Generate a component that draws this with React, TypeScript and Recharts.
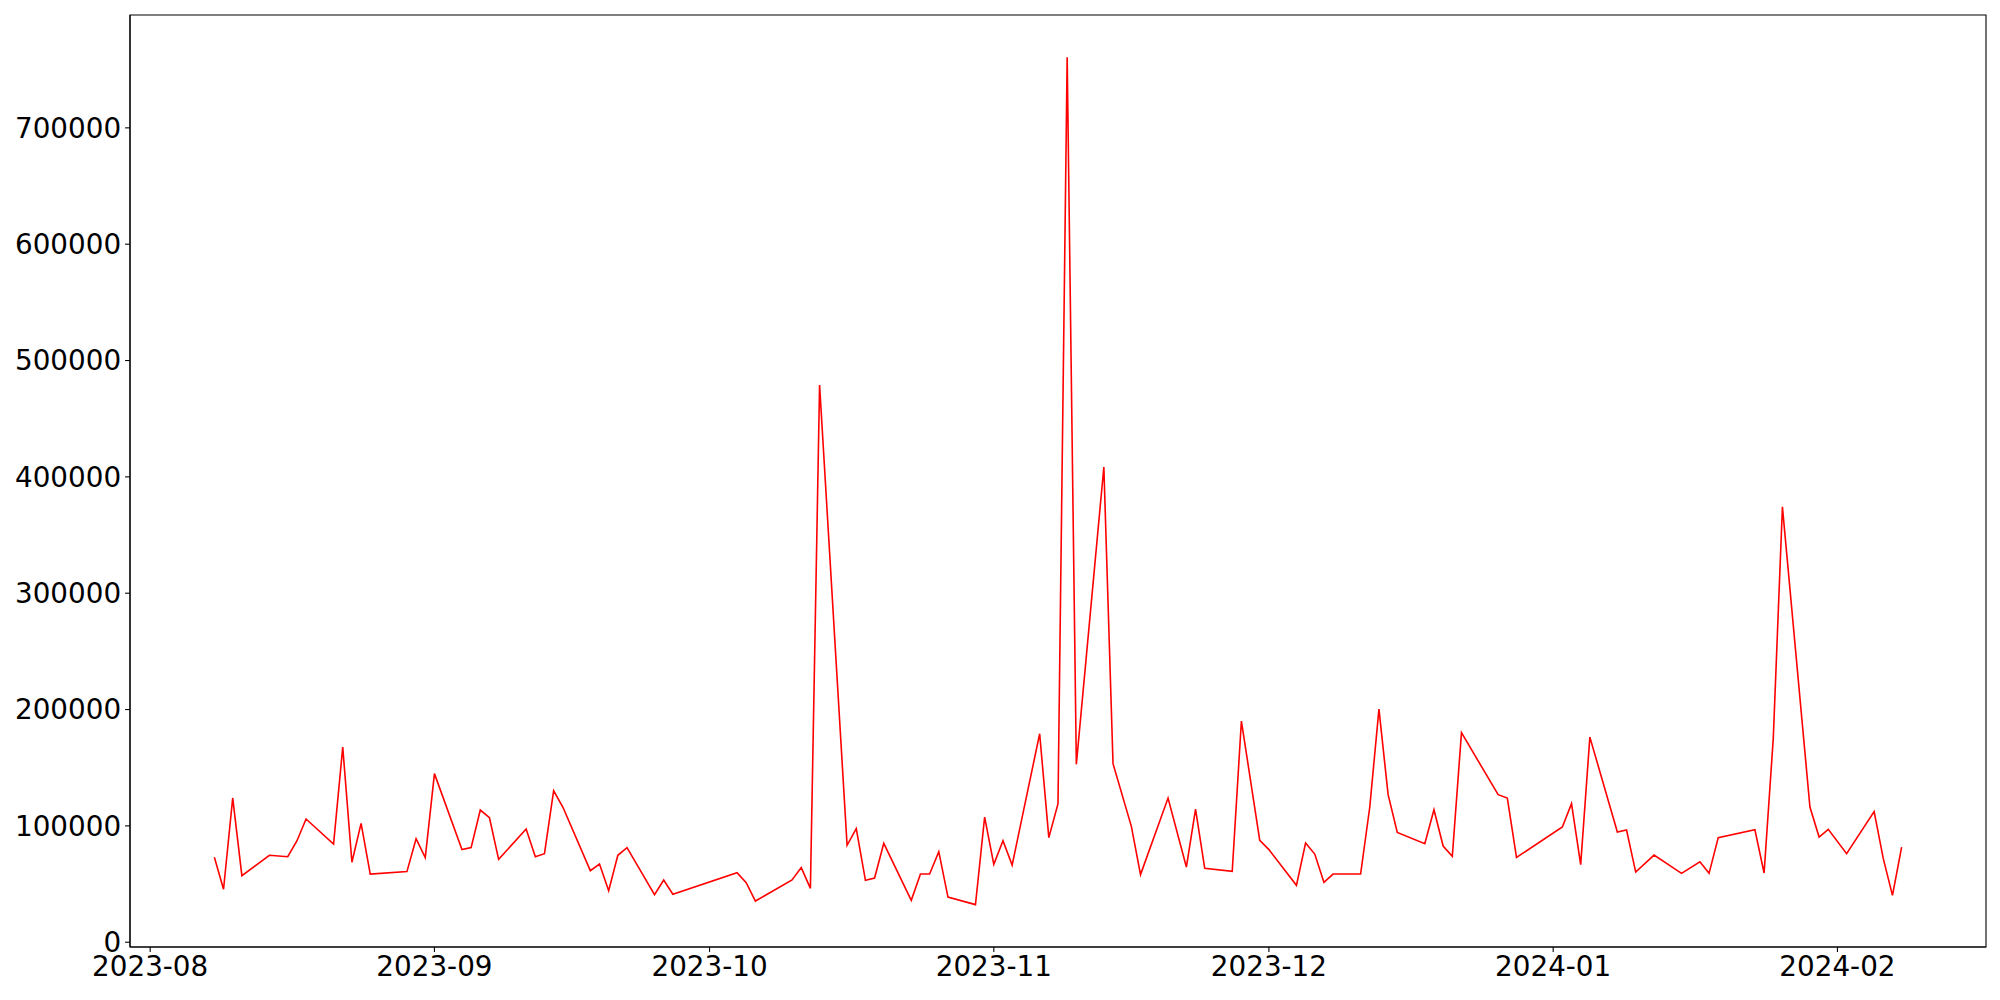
import { LineChart, Line, XAxis, YAxis, ReferenceArea } from "recharts"

const dates = [
  "2023-08-08", "2023-08-09", "2023-08-10", "2023-08-11", "2023-08-14", "2023-08-16", "2023-08-17", "2023-08-18",
  "2023-08-21", "2023-08-22", "2023-08-23", "2023-08-24", "2023-08-25", "2023-08-29", "2023-08-30", "2023-08-31",
  "2023-09-01", "2023-09-04", "2023-09-05", "2023-09-06", "2023-09-07", "2023-09-08", "2023-09-11", "2023-09-12",
  "2023-09-13", "2023-09-14", "2023-09-15", "2023-09-18", "2023-09-19", "2023-09-20", "2023-09-21", "2023-09-22",
  "2023-09-25", "2023-09-26", "2023-09-27", "2023-10-04", "2023-10-05", "2023-10-06", "2023-10-10", "2023-10-11",
  "2023-10-12", "2023-10-13", "2023-10-16", "2023-10-17", "2023-10-18", "2023-10-19", "2023-10-20", "2023-10-23",
  "2023-10-24", "2023-10-25", "2023-10-26", "2023-10-27", "2023-10-30", "2023-10-31", "2023-11-01", "2023-11-02",
  "2023-11-03", "2023-11-06", "2023-11-07", "2023-11-08", "2023-11-09", "2023-11-10", "2023-11-13", "2023-11-14",
  "2023-11-16", "2023-11-17", "2023-11-20", "2023-11-22", "2023-11-23", "2023-11-24", "2023-11-27", "2023-11-28",
  "2023-11-30", "2023-12-01", "2023-12-04", "2023-12-05", "2023-12-06", "2023-12-07", "2023-12-08", "2023-12-11",
  "2023-12-12", "2023-12-13", "2023-12-14", "2023-12-15", "2023-12-18", "2023-12-19", "2023-12-20", "2023-12-21",
  "2023-12-22", "2023-12-26", "2023-12-27", "2023-12-28", "2024-01-02", "2024-01-03", "2024-01-04", "2024-01-05",
  "2024-01-08", "2024-01-09", "2024-01-10", "2024-01-12", "2024-01-15", "2024-01-17", "2024-01-18", "2024-01-19",
  "2024-01-23", "2024-01-24", "2024-01-25", "2024-01-26", "2024-01-29", "2024-01-30", "2024-01-31", "2024-02-02",
  "2024-02-05", "2024-02-06", "2024-02-07", "2024-02-08",
]

const values = [
  73000, 45500, 124000, 57200, 74700, 73500, 87000, 105900,
  84400, 167700, 68700, 102200, 58600, 60700, 89000, 72700,
  144900, 79600, 81300, 113600, 107000, 71200, 97300, 73500,
  76100, 130200, 116200, 61500, 67200, 44300, 74700, 81300,
  40900, 53500, 41200, 59800, 51200, 35400, 53500, 64100,
  46300, 479000, 83300, 97600, 53200, 55200, 85000, 36000,
  58600, 58600, 77800, 38800, 32300, 107600, 66900, 87300,
  66300, 179200, 89900, 119100, 760600, 152900, 408500, 153500,
  99600, 58100, 123900, 64600, 114500, 63500, 60900, 190100,
  87600, 79600, 48900, 85300, 75800, 51500, 58600, 58600,
  116200, 200400, 126800, 94400, 84700, 113900, 82700, 73800,
  180100, 126800, 123900, 72900, 99000, 119100, 66700, 176300,
  94700, 96400, 60300, 74900, 59200, 69200, 59200, 89900,
  96700, 59500, 175000, 374200, 116200, 90400, 97000, 76100,
  112200, 71800, 40300, 81800,
]

const monthTicks = ["2023-08-01", "2023-09-01", "2023-10-01", "2023-11-01", "2023-12-01", "2024-01-01", "2024-02-01"]
const yTicks = [0, 100000, 200000, 300000, 400000, 500000, 600000, 700000]

const ts = (s: string) => Date.parse(s + "T00:00:00Z")

const data = dates.map((d, i) => ({ t: ts(d), v: values[i] }))

// matplotlib-style 5% margins
const pad = (lo: number, hi: number): [number, number] => {
  const m = (hi - lo) * 0.05
  return [lo - m, hi + m]
}
const xDomain = pad(ts(dates[0]), ts(dates[dates.length - 1]))
const yDomain = pad(Math.min(...values), Math.max(...values))

const fmtMonth = (v: number) => {
  const d = new Date(v)
  return `${d.getUTCFullYear()}-${String(d.getUTCMonth() + 1).padStart(2, "0")}`
}

const font = { fontFamily: "DejaVu Sans", fontSize: 27.8, fill: "#000" }
const axisLine = { stroke: "#000", strokeWidth: 1.1 }

export default function App() {
  return (
    <div style={{ position: "absolute", left: 0, top: 0, width: 2000, height: 1000, background: "#fff" }}>
      <LineChart width={2000} height={1000} data={data} margin={{ top: 15, right: 14, left: 0, bottom: 0 }}>
        <XAxis
          dataKey="t"
          type="number"
          domain={xDomain}
          allowDataOverflow
          ticks={monthTicks.map(ts)}
          tickFormatter={fmtMonth}
          height={53}
          tick={font}
          tickSize={4.9}
          tickMargin={4}
          axisLine={axisLine}
          tickLine={axisLine}
          interval={0}
        />
        <YAxis
          type="number"
          domain={yDomain}
          allowDataOverflow
          ticks={yTicks}
          width={130}
          tick={font}
          tickSize={4.9}
          tickMargin={4}
          axisLine={axisLine}
          tickLine={axisLine}
          interval={0}
        />
        {/* frame: the four spines */}
        <ReferenceArea
          x1={xDomain[0]}
          x2={xDomain[1]}
          y1={yDomain[0]}
          y2={yDomain[1]}
          fill="none"
          stroke="#000"
          strokeWidth={1.1}
          ifOverflow="visible"
        />
        <Line
          type="linear"
          dataKey="v"
          stroke="#ff0000"
          strokeWidth={1.6}
          dot={false}
          isAnimationActive={false}
        />
      </LineChart>
    </div>
  )
}
